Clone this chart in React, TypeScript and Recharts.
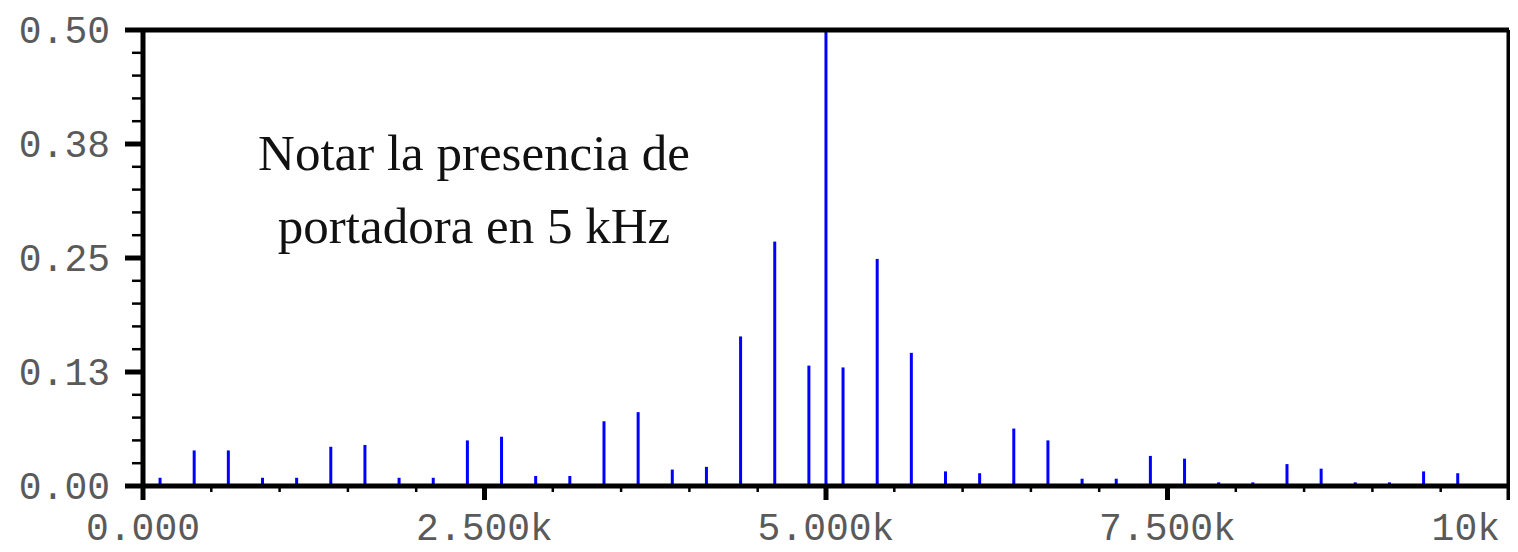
import { Bar, ComposedChart, ReferenceLine, XAxis, YAxis } from "recharts";

// spectral lines (Hz) and their amplitudes
const freqHz = [
  0, 125, 250, 375, 625, 750, 875, 1125, 1250, 1375, 1625, 1750, 1875, 2125, 2250,
  2375, 2625, 2750, 2875, 3125, 3250, 3375, 3625, 3750, 3875, 4125, 4250, 4375,
  4625, 4750, 4875, 5000, 5125, 5250, 5375, 5625, 5750, 5875, 6125, 6250, 6375,
  6625, 6750, 6875, 7125, 7250, 7375, 7625, 7750, 7875, 8125, 8250, 8375, 8625,
  8750, 8875, 9125, 9250, 9375, 9625, 9750, 9875,
];
const amplitude = [
  0.002, 0.009, 0.002, 0.039, 0.039, 0.002, 0.009, 0.009, 0.002, 0.043, 0.045, 0.002, 0.009, 0.009, 0.002,
  0.05, 0.054, 0.002, 0.011, 0.011, 0.002, 0.071, 0.081, 0.002, 0.018, 0.021, 0.002, 0.164,
  0.268, 0.002, 0.132, 0.5, 0.13, 0.002, 0.249, 0.146, 0.002, 0.016, 0.014, 0.002, 0.063,
  0.05, 0.002, 0.008, 0.008, 0.002, 0.033, 0.03, 0.002, 0.004, 0.004, 0.002, 0.024, 0.019,
  0.002, 0.004, 0.004, 0.002, 0.016, 0.014, 0.002, 0.002,
];

const xMajorTicks = [0, 2500, 5000, 7500, 10000];
const xTickLabels = ["0.000", "2.500k", "5.000k", "7.500k", "10k"];
const yMajorTicks = [0, 0.125, 0.25, 0.375, 0.5];
const yTickLabels = ["0.00", "0.13", "0.25", "0.38", "0.50"];
const noteLines = ["Notar la presencia de", "portadora en 5 kHz"];

const data = freqHz.map((f, i) => ({ f, a: amplitude[i] }));
const xTicks = Array.from({ length: 21 }, (_, i) => i * 500);
const yTicks = Array.from({ length: 21 }, (_, i) => i / 40);

const monoFont = "'Liberation Mono', 'Courier New', monospace";
const labelColor = "#5a5a5a";

function XTick(props: any) {
  const { x, y, payload } = props;
  const idx = xMajorTicks.indexOf(payload.value);
  if (idx < 0) {
    return <line x1={x} x2={x} y1={y} y2={y + 6} stroke="#000" strokeWidth={2.5} />;
  }
  const last = idx === xMajorTicks.length - 1;
  return (
    <g>
      <line x1={x} x2={x} y1={y} y2={y + 14} stroke="#000" strokeWidth={5} />
      <text
        x={last ? x - 9 : x}
        y={y + 54}
        textAnchor={last ? "end" : "middle"}
        fontFamily={monoFont}
        fontSize={38}
        fill={labelColor}
      >
        {xTickLabels[idx]}
      </text>
    </g>
  );
}

function YTick(props: any) {
  const { x, y, payload } = props;
  const idx = yMajorTicks.findIndex((v) => Math.abs(v - payload.value) < 1e-6);
  if (idx < 0) {
    return <line x1={x - 11} x2={x} y1={y} y2={y} stroke="#000" strokeWidth={2.5} />;
  }
  return (
    <g>
      <line x1={x - 18} x2={x} y1={y} y2={y} stroke="#000" strokeWidth={5} />
      <text x={x - 33} y={y + 13} textAnchor="end" fontFamily={monoFont} fontSize={38} fill={labelColor}>
        {yTickLabels[idx]}
      </text>
    </g>
  );
}

export default function App() {
  return (
    <div style={{ position: "relative", width: 1518, height: 552, margin: -8 }}>
      <ComposedChart
        width={1518}
        height={552}
        data={data}
        margin={{ top: 30, right: 9, left: 0, bottom: 0 }}
      >
        <XAxis
          dataKey="f"
          type="number"
          domain={[0, 10000]}
          ticks={xTicks}
          interval={0}
          tick={<XTick />}
          tickLine={false}
          tickSize={0}
          tickMargin={0}
          height={66}
          axisLine={{ stroke: "#000", strokeWidth: 5 }}
          allowDataOverflow
        />
        <YAxis
          type="number"
          domain={[0, 0.5]}
          ticks={yTicks}
          interval={0}
          tick={<YTick />}
          tickLine={false}
          tickSize={0}
          tickMargin={0}
          width={143}
          axisLine={{ stroke: "#000", strokeWidth: 5 }}
          allowDataOverflow
        />
        <Bar dataKey="a" fill="#0000ff" barSize={3} isAnimationActive={false} />
        <ReferenceLine y={0.5} stroke="#000" strokeWidth={5} />
        <ReferenceLine x={10000} stroke="#000" strokeWidth={5} />
      </ComposedChart>
      <svg
        width={1518}
        height={552}
        style={{ position: "absolute", left: 0, top: 0, pointerEvents: "none" }}
      >
        {noteLines.map((line, i) => (
          <text
            key={i}
            x={474}
            y={170 + i * 73}
            textAnchor="middle"
            fontFamily="'Liberation Serif', 'Times New Roman', serif"
            fontSize={51}
            fill="#111"
          >
            {line}
          </text>
        ))}
      </svg>
    </div>
  );
}
